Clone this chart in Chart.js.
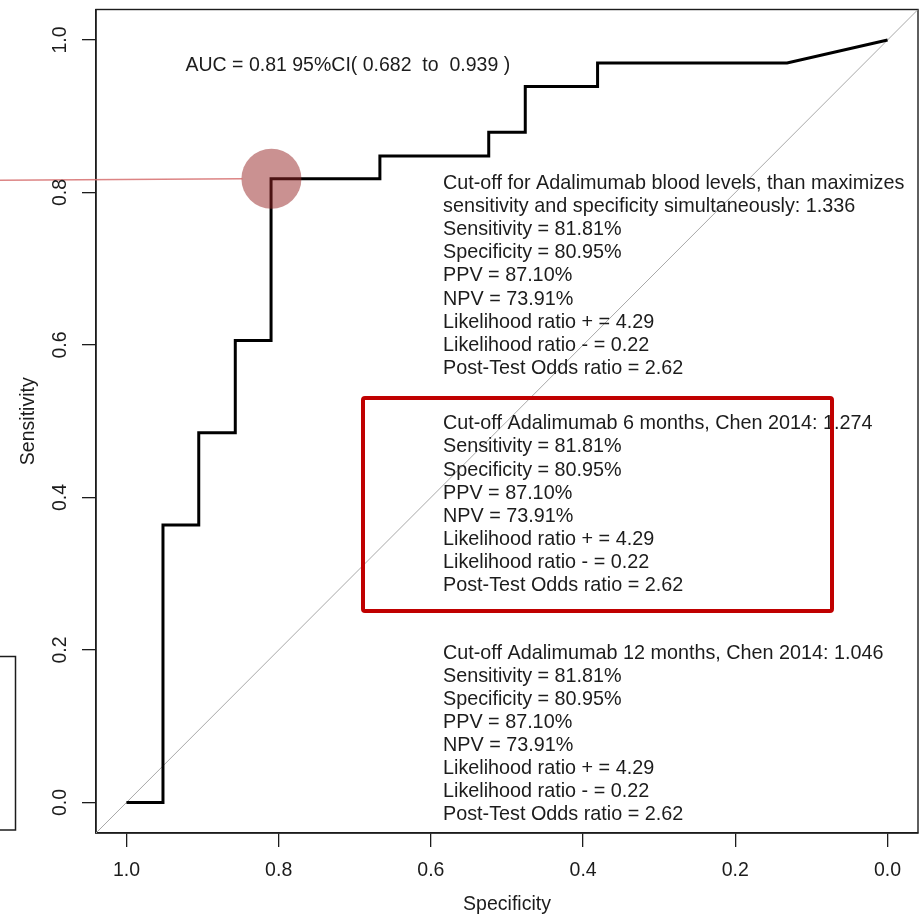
<!DOCTYPE html>
<html>
<head>
<meta charset="utf-8">
<title>ROC curve – Adalimumab blood levels</title>
<script src="https://cdn.jsdelivr.net/npm/chart.js@4/dist/chart.umd.min.js"></script>
<style>
  html, body { margin: 0; padding: 0; background: #ffffff; }
  #wrap { position: relative; width: 922px; height: 915px; }
</style>
</head>
<body>
<div id="wrap"><canvas id="roc"></canvas></div>
<script>
// ROC curve corner points (specificity on a reversed x axis, sensitivity on y)
const specificity = [1.000, 0.952, 0.952, 0.905, 0.905, 0.857, 0.857, 0.810, 0.810, 0.667, 0.667, 0.524, 0.524, 0.476, 0.476, 0.381, 0.381, 0.132, 0.000];
const sensitivity = [0.000, 0.000, 0.364, 0.364, 0.485, 0.485, 0.606, 0.606, 0.818, 0.818, 0.848, 0.848, 0.879, 0.879, 0.939, 0.939, 0.970, 0.970, 1.000];

// Optimal cut-off point (sensitivity 81.81 %, specificity 80.95 %)
const cutoffSpecificity = [0.8095];
const cutoffSensitivity = [0.8181];

// Axis ticks
const tickValues = [0.0, 0.2, 0.4, 0.6, 0.8, 1.0];
const tickLabels = ['0.0', '0.2', '0.4', '0.6', '0.8', '1.0'];

// Annotation texts
const aucText = 'AUC = 0.81 95%CI( 0.682  to  0.939 )';
const optimalBlock = [
  'Cut-off for Adalimumab blood levels, than maximizes',
  'sensitivity and specificity simultaneously: 1.336',
  'Sensitivity = 81.81%',
  'Specificity = 80.95%',
  'PPV = 87.10%',
  'NPV = 73.91%',
  'Likelihood ratio + = 4.29',
  'Likelihood ratio - = 0.22',
  'Post-Test Odds ratio = 2.62'
];
const chen6Block = [
  'Cut-off Adalimumab 6 months, Chen 2014: 1.274',
  'Sensitivity = 81.81%',
  'Specificity = 80.95%',
  'PPV = 87.10%',
  'NPV = 73.91%',
  'Likelihood ratio + = 4.29',
  'Likelihood ratio - = 0.22',
  'Post-Test Odds ratio = 2.62'
];
const chen12Block = [
  'Cut-off Adalimumab 12 months, Chen 2014: 1.046',
  'Sensitivity = 81.81%',
  'Specificity = 80.95%',
  'PPV = 87.10%',
  'NPV = 73.91%',
  'Likelihood ratio + = 4.29',
  'Likelihood ratio - = 0.22',
  'Post-Test Odds ratio = 2.62'
];

const FONT = '"Liberation Sans", Arial, Helvetica, sans-serif';
const INK = '#1c1c1c';
const TXT_SIZE = 19.5;
const BLOCK_SIZE = 19.8;

const rocPoints = specificity.map((s, i) => ({ x: s, y: sensitivity[i] }));
const cutoffPoints = cutoffSpecificity.map((s, i) => ({ x: s, y: cutoffSensitivity[i] }));

function fixedTicks(scale) {
  scale.ticks = tickValues.map(v => ({ value: v }));
}
function tickText(value) {
  const i = tickValues.findIndex(v => Math.abs(v - value) < 1e-9);
  return i >= 0 ? tickLabels[i] : '';
}

// Tick labels set R-style: horizontal under the x axis, rotated beside the y axis
const axisLabels = {
  id: 'axisLabels',
  afterDraw(chart) {
    const { ctx, chartArea: a } = chart;
    const xs = chart.scales.x, ys = chart.scales.y;
    ctx.save();
    ctx.fillStyle = INK;
    ctx.font = TXT_SIZE + 'px ' + FONT;
    ctx.textAlign = 'center';
    ctx.textBaseline = 'middle';
    xs.ticks.forEach(t => {
      ctx.fillText(tickText(t.value), xs.getPixelForValue(t.value), a.bottom + 38);
    });
    ys.ticks.forEach(t => {
      ctx.save();
      ctx.translate(a.left - 35, ys.getPixelForValue(t.value));
      ctx.rotate(-Math.PI / 2);
      ctx.fillText(tickText(t.value), 0, 0);
      ctx.restore();
    });
    ctx.restore();
  }
};

// Plot frame, text annotations, the highlighted box and the pointer line
const annotations = {
  id: 'annotations',
  beforeDatasetsDraw(chart) {
    const { ctx, chartArea: a } = chart;
    ctx.save();
    ctx.strokeStyle = INK;
    ctx.lineWidth = 1.4;
    ctx.strokeRect(a.left, a.top, a.right - a.left, a.bottom - a.top);
    ctx.restore();
  },
  afterDatasetsDraw(chart) {
    const { ctx } = chart;
    const xs = chart.scales.x, ys = chart.scales.y;
    ctx.save();
    ctx.fillStyle = INK;
    ctx.textAlign = 'left';
    ctx.textBaseline = 'alphabetic';

    ctx.font = TXT_SIZE + 'px ' + FONT;
    ctx.fillText(aucText, 185.5, 70.5);

    ctx.font = BLOCK_SIZE + 'px ' + FONT;
    const lineGap = 23.1;
    const drawBlock = (lines, x, y0) => {
      lines.forEach((t, i) => ctx.fillText(t, x, y0 + i * lineGap));
    };
    drawBlock(optimalBlock, 443, 189);
    drawBlock(chen6Block, 443, 429.3);
    drawBlock(chen12Block, 443, 658.5);

    // highlighted reference cut-off
    ctx.strokeStyle = '#c00000';
    ctx.lineWidth = 4;
    ctx.beginPath();
    if (ctx.roundRect) ctx.roundRect(363, 398, 469, 213, 2);
    else ctx.rect(363, 398, 469, 213);
    ctx.stroke();

    // pointer line running to the cut-off marker
    const cx = xs.getPixelForValue(cutoffSpecificity[0]);
    const cy = ys.getPixelForValue(cutoffSensitivity[0]);
    ctx.strokeStyle = 'rgba(214, 110, 110, 0.85)';
    ctx.lineWidth = 1.6;
    ctx.beginPath();
    ctx.moveTo(0, cy + 1.6);
    ctx.lineTo(cx - 29, cy);
    ctx.stroke();

    // neighbouring panel frame at the left edge
    ctx.strokeStyle = INK;
    ctx.lineWidth = 1.5;
    ctx.strokeRect(-2, 656.5, 17.5, 173.5);
    ctx.restore();
  }
};

new Chart(document.getElementById('roc'), {
  type: 'scatter',
  data: {
    datasets: [
      {
        label: 'Chance',
        data: [{ x: 1.04, y: -0.04 }, { x: -0.04, y: 1.04 }],
        showLine: true,
        borderColor: '#a8a8a8',
        borderWidth: 1,
        pointRadius: 0,
        order: 3
      },
      {
        label: 'ROC',
        data: rocPoints,
        showLine: true,
        borderColor: '#000000',
        borderWidth: 3,
        borderJoinStyle: 'miter',
        pointRadius: 0,
        tension: 0,
        order: 2
      },
      {
        label: 'Cut-off',
        data: cutoffPoints,
        pointRadius: 30,
        pointHoverRadius: 30,
        pointBackgroundColor: 'rgba(150, 36, 36, 0.5)',
        pointBorderWidth: 0,
        borderWidth: 0,
        order: 1
      }
    ]
  },
  options: {
    responsive: true,
    maintainAspectRatio: false,
    animation: false,
    devicePixelRatio: 1,
    layout: { autoPadding: false, padding: { top: 9.5, right: 4, bottom: 0, left: 0 } },
    plugins: {
      legend: { display: false },
      tooltip: { enabled: false }
    },
    scales: {
      x: {
        type: 'linear',
        reverse: true,
        min: -0.04,
        max: 1.04,
        afterBuildTicks: fixedTicks,
        afterFit(scale) { scale.height = 82; },
        ticks: { display: false, callback: tickText },
        grid: { drawOnChartArea: false, tickLength: 14, color: INK, lineWidth: 1.3 },
        border: { display: true, color: INK, width: 1.4 },
        title: {
          display: true,
          text: 'Specificity',
          color: INK,
          font: { family: FONT, size: TXT_SIZE },
          padding: { top: 0, bottom: -1 }
        }
      },
      y: {
        type: 'linear',
        min: -0.04,
        max: 1.04,
        afterBuildTicks: fixedTicks,
        afterFit(scale) { scale.width = 96; },
        ticks: { display: false, callback: tickText },
        grid: { drawOnChartArea: false, tickLength: 14, color: INK, lineWidth: 1.3 },
        border: { display: true, color: INK, width: 1.4 },
        title: {
          display: true,
          text: 'Sensitivity',
          color: INK,
          font: { family: FONT, size: TXT_SIZE },
          padding: { top: 17, bottom: 0 }
        }
      }
    }
  },
  plugins: [annotations, axisLabels]
});
</script>
</body>
</html>
